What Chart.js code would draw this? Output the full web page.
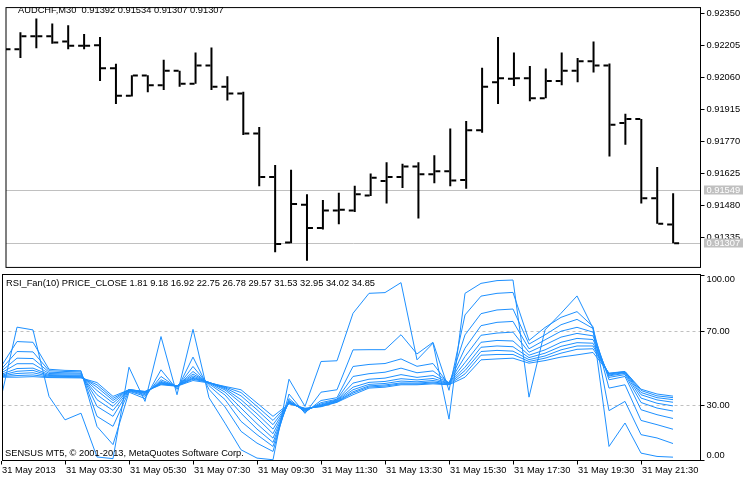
<!DOCTYPE html>
<html>
<head>
<meta charset="utf-8">
<script src="https://cdn.jsdelivr.net/npm/chart.js@4.4.0/dist/chart.umd.min.js"></script>
<style>
  body { margin: 0; background: #fff; }
  #wrap { position: relative; width: 754px; height: 482px; }
  #top { position: absolute; left: 0; top: 0; }
  #bottom { position: absolute; left: 0; top: 272px; }
</style>
</head>
<body>
<div id="wrap">
  <canvas id="top" width="754" height="275"></canvas>
  <canvas id="bottom" width="754" height="210"></canvas>
</div>
<script>
// AUDCHF M30, 31 May 2013, bars 01:30 .. 22:30
var openP  = [0.92200,0.92189,0.92248,0.92248,0.92224,0.92204,0.92207,0.92102,0.91977,0.92069,0.92025,0.92091,0.92032,0.92115,0.92018,0.91988,0.91806,0.91608,0.91310,0.91482,0.91376,0.91456,0.91456,0.91524,0.91590,0.91608,0.91656,0.91621,0.91634,0.91594,0.91821,0.92039,0.92054,0.92057,0.91966,0.92044,0.92091,0.92134,0.92115,0.91853,0.91872,0.91511,0.91392];
var highP  = [0.92210,0.92266,0.92328,0.92306,0.92298,0.92258,0.92244,0.92123,0.92071,0.92071,0.92141,0.92091,0.92174,0.92196,0.92066,0.91996,0.91835,0.91663,0.91641,0.91529,0.91503,0.91536,0.91568,0.91624,0.91675,0.91668,0.91675,0.91707,0.91828,0.91862,0.92105,0.92244,0.92174,0.92112,0.92101,0.92174,0.92149,0.92224,0.92124,0.91896,0.91872,0.91653,0.91534];
var lowP   = [0.92180,0.92149,0.92193,0.92214,0.92189,0.92189,0.92044,0.91940,0.91974,0.91993,0.92003,0.92018,0.92032,0.92003,0.91956,0.91799,0.91566,0.91266,0.91307,0.91227,0.91369,0.91393,0.91449,0.91522,0.91488,0.91558,0.91419,0.91580,0.91566,0.91555,0.91809,0.91940,0.92022,0.91952,0.91966,0.92025,0.92039,0.92083,0.91701,0.91755,0.91488,0.91395,0.91307];
var closeP = [0.92189,0.92248,0.92248,0.92219,0.92204,0.92204,0.92102,0.91977,0.92069,0.92025,0.92091,0.92032,0.92115,0.92018,0.91988,0.91806,0.91608,0.91303,0.91485,0.91376,0.91456,0.91459,0.91529,0.91605,0.91608,0.91656,0.91621,0.91634,0.91592,0.91821,0.92018,0.92057,0.92057,0.91966,0.92044,0.92091,0.92134,0.92115,0.91846,0.91872,0.91511,0.91395,0.91307];

var priceTicks  = [0.91335,0.91480,0.91625,0.91770,0.91915,0.92060,0.92205,0.92350];
var priceLevels = [0.91549,0.91307];

// RSI fan, 10 lines
var rsi1  = [33.8,72.2,70.7,34.7,22.0,25.6,1.9,1.0,50.5,32.0,67.1,35.6,71.0,34.0,20.2,5.8,1.3,0.4,44.0,29.3,53.6,54.0,79.7,90.5,90.9,96.3,54.5,63.5,22.4,90.5,95.9,97.4,97.7,34.3,70.7,79.7,89.1,71.6,7.6,20.3,4.0,2.2,1.81];
var rsi2  = [50.8,64.4,64.0,49.4,48.8,48.6,18.4,8.6,37.0,33.5,49.1,38.5,56.0,38.5,29.0,15.8,9.4,4.9,36.0,25.5,37.0,38.3,59.9,60.0,60.0,68.1,57.7,64.0,38.0,78.8,89.0,90.5,91.0,65.0,72.0,77.5,80.6,72.5,27.0,32.0,14.0,12.2,9.18];
var rsi3  = [49.3,59.0,58.8,48.6,48.2,48.0,23.9,18.5,37.5,34.8,45.5,39.5,50.9,40.5,33.0,21.2,14.0,7.6,33.5,26.0,32.5,34.0,50.9,52.0,52.5,55.0,51.0,52.5,41.0,68.0,79.5,81.5,82.0,63.0,68.0,73.5,76.4,71.5,39.2,41.0,21.7,19.4,16.92];
var rsi4  = [48.2,55.4,55.2,47.8,47.5,47.3,29.3,23.9,37.8,35.6,43.7,40.0,48.2,41.5,35.5,25.6,17.0,9.8,32.5,26.5,31.3,33.2,45.5,47.0,47.8,50.0,47.5,48.5,42.0,60.8,73.0,74.8,75.3,60.5,65.3,70.0,72.1,69.5,43.7,45.5,27.5,24.8,22.75];
var rsi5  = [47.3,52.4,52.4,47.1,46.9,46.8,32.9,27.1,38.0,36.2,42.8,40.3,46.8,42.0,37.0,28.4,19.9,12.1,32.0,27.0,30.6,32.8,41.9,44.0,44.6,46.5,45.0,46.0,42.2,56.3,67.8,69.0,69.5,58.6,62.6,66.8,68.8,67.5,45.0,46.5,31.4,28.4,26.78];
var rsi6  = [46.6,49.8,50.0,46.5,46.3,46.2,35.6,29.3,38.2,36.6,42.3,40.4,45.8,42.2,38.2,31.1,23.0,14.5,31.6,27.3,30.1,32.5,39.7,42.3,42.8,44.3,43.6,44.4,42.0,53.0,64.0,65.0,64.7,57.0,59.9,64.0,66.1,65.5,45.8,47.2,33.8,31.0,29.57];
var rsi7  = [46.1,48.3,48.8,46.0,45.9,45.8,37.9,31.1,38.3,36.9,41.9,40.4,45.0,42.3,38.9,32.9,25.3,17.0,31.3,27.6,29.8,32.2,38.3,41.2,41.7,43.0,42.6,43.3,41.8,50.5,61.3,62.0,61.6,55.7,58.1,61.8,63.8,63.5,46.3,47.6,35.6,32.8,31.53];
var rsi8  = [45.7,47.1,47.5,45.6,45.5,45.4,39.7,32.5,38.4,37.1,41.5,40.4,44.5,42.3,39.4,35.0,27.5,19.4,31.1,27.9,29.5,31.9,37.2,40.4,40.9,42.0,41.9,42.5,41.5,48.7,59.0,59.6,59.2,54.6,56.6,59.9,62.0,62.0,46.8,47.9,36.8,34.0,32.95];
var rsi9  = [45.4,46.0,46.3,45.2,45.1,45.0,41.0,33.6,38.4,37.3,41.4,40.3,44.0,42.2,39.8,36.8,29.3,21.7,30.9,28.1,29.3,31.7,36.5,39.8,40.3,41.5,41.4,42.0,41.2,46.9,57.0,57.4,57.4,53.6,55.4,58.1,60.2,60.5,47.1,48.1,37.9,35.0,34.02];
var rsi10 = [45.1,45.1,45.4,44.9,44.8,44.7,42.2,34.7,38.3,37.4,41.0,40.2,43.3,42.0,40.1,38.3,31.1,23.9,30.7,28.3,29.1,31.5,35.6,39.2,39.7,41.0,41.0,41.5,41.0,45.1,54.5,55.0,55.4,52.7,54.1,56.0,57.2,58.5,47.3,48.2,38.6,36.0,34.85];
var rsiTicks = [0, 30, 70, 100];

var timeTicks  = [0,4,8,12,16,20,24,28,32,36,40];
var timeLabels = ["31 May 2013","31 May 03:30","31 May 05:30","31 May 07:30","31 May 09:30","31 May 11:30","31 May 13:30","31 May 15:30","31 May 17:30","31 May 19:30","31 May 21:30"];

var FONT = "9.3px 'Liberation Sans', Arial, sans-serif";
Chart.defaults.font.family = "'Liberation Sans', Arial, sans-serif";
Chart.defaults.font.size = 9.3;
Chart.defaults.color = '#000';

var idx = closeP.map(function (v, i) { return i; });
var xMin = 0.09375, xMax = xMin + 698 / 16;
var tickOff = 3.5 / 16;

var frame = {
  id: 'frame',
  afterDraw: function (chart) {
    var a = chart.chartArea, ctx = chart.ctx;
    ctx.save();
    ctx.strokeStyle = '#000';
    ctx.lineWidth = 1;
    ctx.strokeRect(a.left, a.top, a.right - a.left, a.bottom - a.top);
    ctx.restore();
  }
};

var levels = {
  id: 'levels',
  beforeDatasetsDraw: function (chart) {
    var a = chart.chartArea, ctx = chart.ctx, y = chart.scales.y;
    ctx.save();
    ctx.strokeStyle = '#c0c0c0';
    ctx.lineWidth = 1;
    priceLevels.forEach(function (v) {
      var py = Math.round(y.getPixelForValue(v)) + 0.5;
      ctx.beginPath(); ctx.moveTo(a.left, py); ctx.lineTo(a.right, py); ctx.stroke();
    });
    ctx.restore();
  },
  afterDraw: function (chart) {
    var a = chart.chartArea, ctx = chart.ctx, y = chart.scales.y;
    ctx.save();
    ctx.font = FONT;
    ctx.textBaseline = 'middle';
    priceLevels.forEach(function (v) {
      var py = Math.round(y.getPixelForValue(v));
      ctx.fillStyle = '#c0c0c0';
      ctx.fillRect(a.right + 3.5, py - 4.5, 39, 9);
      ctx.fillStyle = '#fff';
      ctx.fillText(v.toFixed(5), a.right + 6, py + 0.5);
    });
    var n = closeP.length - 1;
    ctx.fillStyle = '#000';
    ctx.fillText('AUDCHF,M30  ' + [openP[n], highP[n], lowP[n], closeP[n]].map(function (v) { return v.toFixed(5); }).join(' '), 18, 10);
    ctx.restore();
  }
};

new Chart(document.getElementById('top'), {
  type: 'bar',
  data: {
    datasets: [
      { type: 'bar', data: idx.map(function (i) { return { x: i, y: [lowP[i], highP[i]] }; }),
        backgroundColor: '#000', borderWidth: 0, barThickness: 2, inflateAmount: 0 },
      { type: 'scatter', data: idx.map(function (i) { return { x: i - tickOff, y: openP[i] }; }),
        pointStyle: 'line', pointRadius: 2.5, pointBorderWidth: 2, pointBorderColor: '#000', pointBackgroundColor: '#000' },
      { type: 'scatter', data: idx.map(function (i) { return { x: i + tickOff, y: closeP[i] }; }),
        pointStyle: 'line', pointRadius: 2.5, pointBorderWidth: 2, pointBorderColor: '#000', pointBackgroundColor: '#000' }
    ]
  },
  options: {
    responsive: false,
    animation: false,
    events: [],
    layout: { padding: { left: 2.5, top: 2.5, right: 0, bottom: 2.5 } },
    plugins: { legend: { display: false }, tooltip: { enabled: false } },
    scales: {
      x: { type: 'linear', display: false, min: xMin, max: xMax, offset: false },
      y: {
        position: 'right', min: 0.91197, max: 0.92378,
        afterBuildTicks: function (s) { s.ticks = priceTicks.map(function (v) { return { value: v }; }); },
        afterFit: function (s) { s.width = 53.5; },
        ticks: { padding: 2, callback: function (v) { return v.toFixed(5); } },
        grid: { drawOnChartArea: false, tickLength: 4, tickColor: '#000' },
        border: { display: false }
      }
    }
  },
  plugins: [levels, frame]
});

var rsiAll = [rsi1, rsi2, rsi3, rsi4, rsi5, rsi6, rsi7, rsi8, rsi9, rsi10];

var rsiText = {
  id: 'rsiText',
  afterDraw: function (chart) {
    var a = chart.chartArea, ctx = chart.ctx, y = chart.scales.y;
    ctx.save();
    ctx.font = FONT;
    ctx.fillStyle = '#000';
    ctx.textBaseline = 'middle';
    rsiTicks.forEach(function (v) {
      var py = Math.min(Math.max(y.getPixelForValue(v), a.top + 5), a.bottom - 5);
      ctx.fillText(v.toFixed(2), a.right + 6, py);
    });
    var last = rsiAll.map(function (s) { return s[s.length - 1].toFixed(2); }).join(' ');
    ctx.fillText('RSI_Fan(10) PRICE_CLOSE ' + last, 6, a.top + 9);
    ctx.fillText('SENSUS MT5, \u00a9 2001-2013, MetaQuotes Software Corp.', 5, a.bottom - 7);
    ctx.restore();
  }
};

new Chart(document.getElementById('bottom'), {
  type: 'line',
  data: {
    datasets: rsiAll.map(function (s) {
      return {
        data: idx.map(function (i) { return { x: i, y: s[i] }; }),
        borderColor: '#1e90ff', borderWidth: 1, pointRadius: 0, tension: 0, fill: false
      };
    })
  },
  options: {
    responsive: false,
    animation: false,
    events: [],
    layout: { padding: { left: 2.5, top: 2.5, right: 0, bottom: 0 } },
    plugins: { legend: { display: false }, tooltip: { enabled: false } },
    scales: {
      x: {
        type: 'linear', min: xMin, max: xMax, offset: false,
        afterBuildTicks: function (s) { s.ticks = timeTicks.map(function (v) { return { value: v }; }); },
        afterFit: function (s) { s.height = 21.5; },
        ticks: { autoSkip: false, maxRotation: 0, align: 'start', labelOffset: 1, padding: 0,
                 callback: function (v) { return timeLabels[timeTicks.indexOf(v)]; } },
        grid: { drawOnChartArea: false, tickLength: 4, tickColor: '#000' },
        border: { display: false }
      },
      y: {
        position: 'right', min: 0, max: 100.7,
        afterBuildTicks: function (s) { s.ticks = rsiTicks.map(function (v) { return { value: v }; }); },
        afterFit: function (s) { s.width = 53.5; },
        ticks: { display: false },
        grid: {
          drawOnChartArea: true, tickLength: 4, tickColor: '#000',
          color: function (c) { return (c.tick && (c.tick.value === 30 || c.tick.value === 70)) ? '#c0c0c0' : 'rgba(0,0,0,0)'; }
        },
        border: { display: false, dash: [3, 3] }
      }
    }
  },
  plugins: [rsiText, frame]
});
</script>
</body>
</html>
